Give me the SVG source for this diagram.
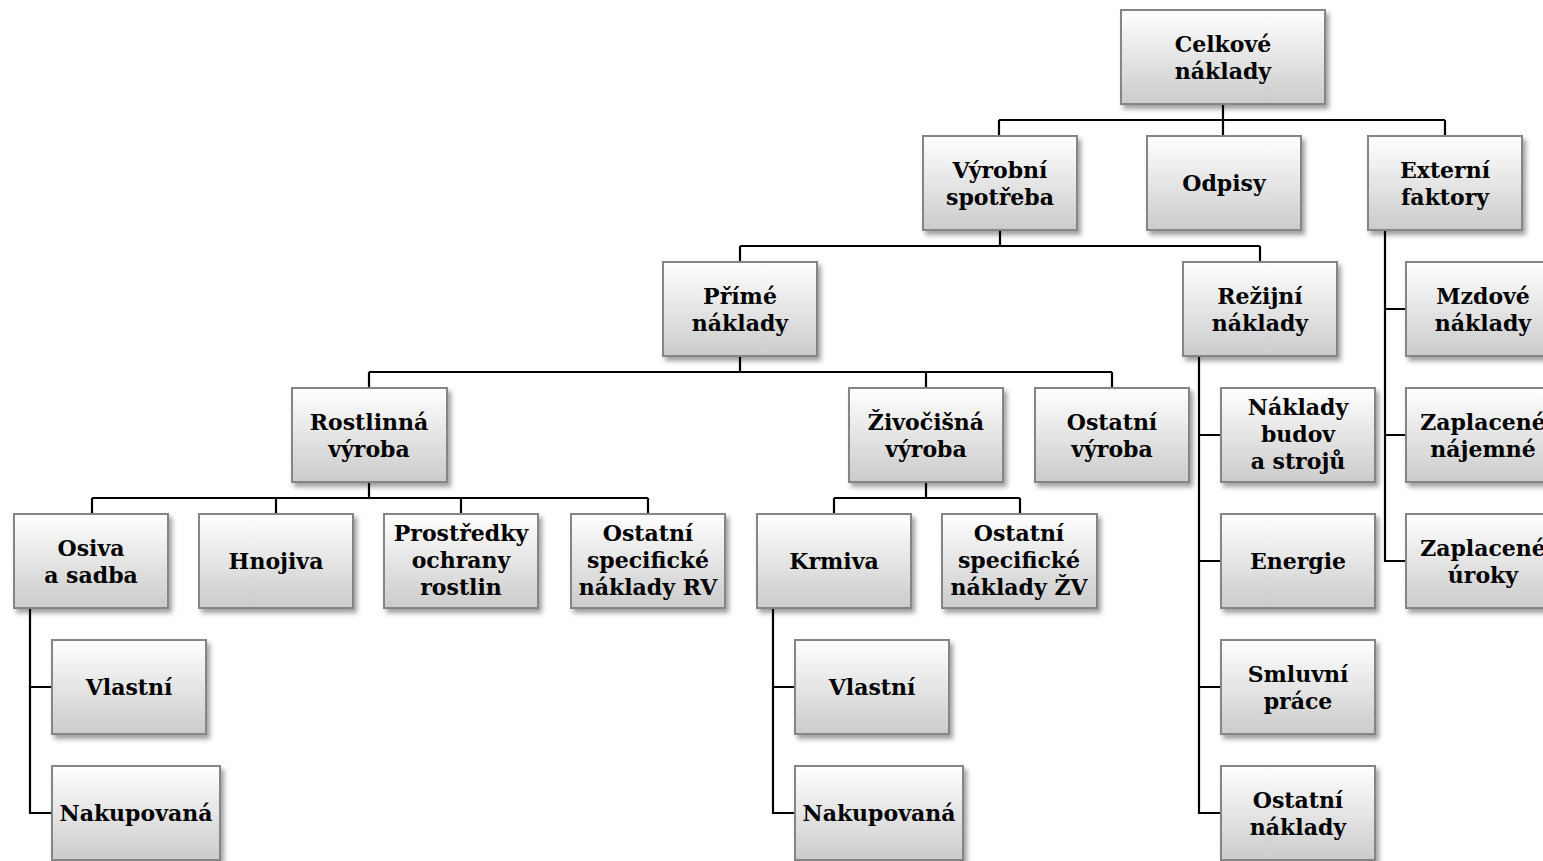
<svg xmlns="http://www.w3.org/2000/svg" width="1543" height="861" viewBox="0 0 1543 861">
  <defs>
    <linearGradient id="boxFill" x1="0" y1="0" x2="0" y2="1">
      <stop offset="0" stop-color="#ffffff"/>
      <stop offset="1" stop-color="#cbcbcb"/>
    </linearGradient>
    <filter id="shadow" x="-10%" y="-10%" width="125%" height="130%">
      <feDropShadow dx="3" dy="4" stdDeviation="2.5" flood-color="#000" flood-opacity="0.38"/>
    </filter>
  </defs>
  <style>
    .box { fill: url(#boxFill); stroke: #858585; stroke-width: 2; filter: url(#shadow); }
    .lbl { font-family: "DejaVu Serif", "Liberation Serif", serif; font-weight: bold; font-size: 22px; fill: #000; text-anchor: middle; }
    .conn { fill: none; stroke: #000; stroke-width: 2.2; }
  </style>
  <rect width="1543" height="861" fill="#ffffff"/>

  <!-- connectors -->
  <g id="connectors" class="conn">
    <path d="M1223,104 V120 M999,120 H1445 M999,120 V136 M1223,120 V136 M1445,120 V136"/>
    <path d="M1000,230 V246 M740,246 H1260 M740,246 V262 M1260,246 V262"/>
    <path d="M740,356 V372 M369,372 H1112 M369,372 V388 M926,372 V388 M1112,372 V388"/>
    <path d="M369,482 V498 M92,498 H648 M92,498 V514 M276,498 V514 M461,498 V514 M648,498 V514"/>
    <path d="M926,482 V498 M834,498 H1020 M834,498 V514 M1020,498 V514"/>
    <path d="M30,608 V813 H52 M30,687 H52"/>
    <path d="M773,608 V813 H795 M773,687 H795"/>
    <path d="M1199,356 V813 H1221 M1199,435 H1221 M1199,561 H1221 M1199,687 H1221"/>
    <path d="M1385,230 V561 H1406 M1385,309 H1406 M1385,435 H1406"/>
  </g>

  <!-- level 0 -->
  <g id="celkove-naklady">
    <rect class="box" x="1121" y="10" width="204" height="94"/>
    <text class="lbl" x="1223" y="52">Celkové</text>
    <text class="lbl" x="1223" y="79">náklady</text>
  </g>

  <!-- level 1 -->
  <g id="vyrobni-spotreba">
    <rect class="box" x="923" y="136" width="154" height="94"/>
    <text class="lbl" x="1000" y="178">Výrobní</text>
    <text class="lbl" x="1000" y="205">spotřeba</text>
  </g>
  <g id="odpisy">
    <rect class="box" x="1147" y="136" width="154" height="94"/>
    <text class="lbl" x="1224" y="191">Odpisy</text>
  </g>
  <g id="externi-faktory">
    <rect class="box" x="1368" y="136" width="154" height="94"/>
    <text class="lbl" x="1445" y="178">Externí</text>
    <text class="lbl" x="1445" y="205">faktory</text>
  </g>

  <!-- level 2 -->
  <g id="prime-naklady">
    <rect class="box" x="663" y="262" width="154" height="94"/>
    <text class="lbl" x="740" y="304">Přímé</text>
    <text class="lbl" x="740" y="331">náklady</text>
  </g>
  <g id="rezijni-naklady">
    <rect class="box" x="1183" y="262" width="154" height="94"/>
    <text class="lbl" x="1260" y="304">Režijní</text>
    <text class="lbl" x="1260" y="331">náklady</text>
  </g>
  <g id="mzdove-naklady">
    <rect class="box" x="1406" y="262" width="154" height="94"/>
    <text class="lbl" x="1483" y="304">Mzdové</text>
    <text class="lbl" x="1483" y="331">náklady</text>
  </g>

  <!-- level 3 -->
  <g id="rostlinna-vyroba">
    <rect class="box" x="292" y="388" width="155" height="94"/>
    <text class="lbl" x="369" y="430">Rostlinná</text>
    <text class="lbl" x="369" y="457">výroba</text>
  </g>
  <g id="zivocisna-vyroba">
    <rect class="box" x="849" y="388" width="154" height="94"/>
    <text class="lbl" x="926" y="430">Živočišná</text>
    <text class="lbl" x="926" y="457">výroba</text>
  </g>
  <g id="ostatni-vyroba">
    <rect class="box" x="1035" y="388" width="154" height="94"/>
    <text class="lbl" x="1112" y="430">Ostatní</text>
    <text class="lbl" x="1112" y="457">výroba</text>
  </g>
  <g id="naklady-budov">
    <rect class="box" x="1221" y="388" width="154" height="94"/>
    <text class="lbl" x="1298" y="415">Náklady</text>
    <text class="lbl" x="1298" y="442">budov</text>
    <text class="lbl" x="1298" y="469">a strojů</text>
  </g>
  <g id="zaplacene-najemne">
    <rect class="box" x="1406" y="388" width="154" height="94"/>
    <text class="lbl" x="1483" y="430">Zaplacené</text>
    <text class="lbl" x="1483" y="457">nájemné</text>
  </g>

  <!-- level 4 -->
  <g id="osiva-a-sadba">
    <rect class="box" x="14" y="514" width="154" height="94"/>
    <text class="lbl" x="91" y="556">Osiva</text>
    <text class="lbl" x="91" y="583">a sadba</text>
  </g>
  <g id="hnojiva">
    <rect class="box" x="199" y="514" width="154" height="94"/>
    <text class="lbl" x="276" y="569">Hnojiva</text>
  </g>
  <g id="prostredky-ochrany">
    <rect class="box" x="384" y="514" width="154" height="94"/>
    <text class="lbl" x="461" y="541">Prostředky</text>
    <text class="lbl" x="461" y="568">ochrany</text>
    <text class="lbl" x="461" y="595">rostlin</text>
  </g>
  <g id="ostatni-rv">
    <rect class="box" x="571" y="514" width="154" height="94"/>
    <text class="lbl" x="648" y="541">Ostatní</text>
    <text class="lbl" x="648" y="568">specifické</text>
    <text class="lbl" x="648" y="595">náklady RV</text>
  </g>
  <g id="krmiva">
    <rect class="box" x="757" y="514" width="154" height="94"/>
    <text class="lbl" x="834" y="569">Krmiva</text>
  </g>
  <g id="ostatni-zv">
    <rect class="box" x="942" y="514" width="155" height="94"/>
    <text class="lbl" x="1019" y="541">Ostatní</text>
    <text class="lbl" x="1019" y="568">specifické</text>
    <text class="lbl" x="1019" y="595">náklady ŽV</text>
  </g>
  <g id="energie">
    <rect class="box" x="1221" y="514" width="154" height="94"/>
    <text class="lbl" x="1298" y="569">Energie</text>
  </g>
  <g id="zaplacene-uroky">
    <rect class="box" x="1406" y="514" width="154" height="94"/>
    <text class="lbl" x="1483" y="556">Zaplacené</text>
    <text class="lbl" x="1483" y="583">úroky</text>
  </g>

  <!-- level 5 -->
  <g id="osiva-vlastni">
    <rect class="box" x="52" y="640" width="154" height="94"/>
    <text class="lbl" x="129" y="695">Vlastní</text>
  </g>
  <g id="krmiva-vlastni">
    <rect class="box" x="795" y="640" width="154" height="94"/>
    <text class="lbl" x="872" y="695">Vlastní</text>
  </g>
  <g id="smluvni-prace">
    <rect class="box" x="1221" y="640" width="154" height="94"/>
    <text class="lbl" x="1298" y="682">Smluvní</text>
    <text class="lbl" x="1298" y="709">práce</text>
  </g>

  <!-- level 6 -->
  <g id="osiva-nakupovana">
    <rect class="box" x="52" y="766" width="168" height="94"/>
    <text class="lbl" x="136" y="821">Nakupovaná</text>
  </g>
  <g id="krmiva-nakupovana">
    <rect class="box" x="795" y="766" width="168" height="94"/>
    <text class="lbl" x="879" y="821">Nakupovaná</text>
  </g>
  <g id="ostatni-naklady">
    <rect class="box" x="1221" y="766" width="154" height="94"/>
    <text class="lbl" x="1298" y="808">Ostatní</text>
    <text class="lbl" x="1298" y="835">náklady</text>
  </g>
</svg>
